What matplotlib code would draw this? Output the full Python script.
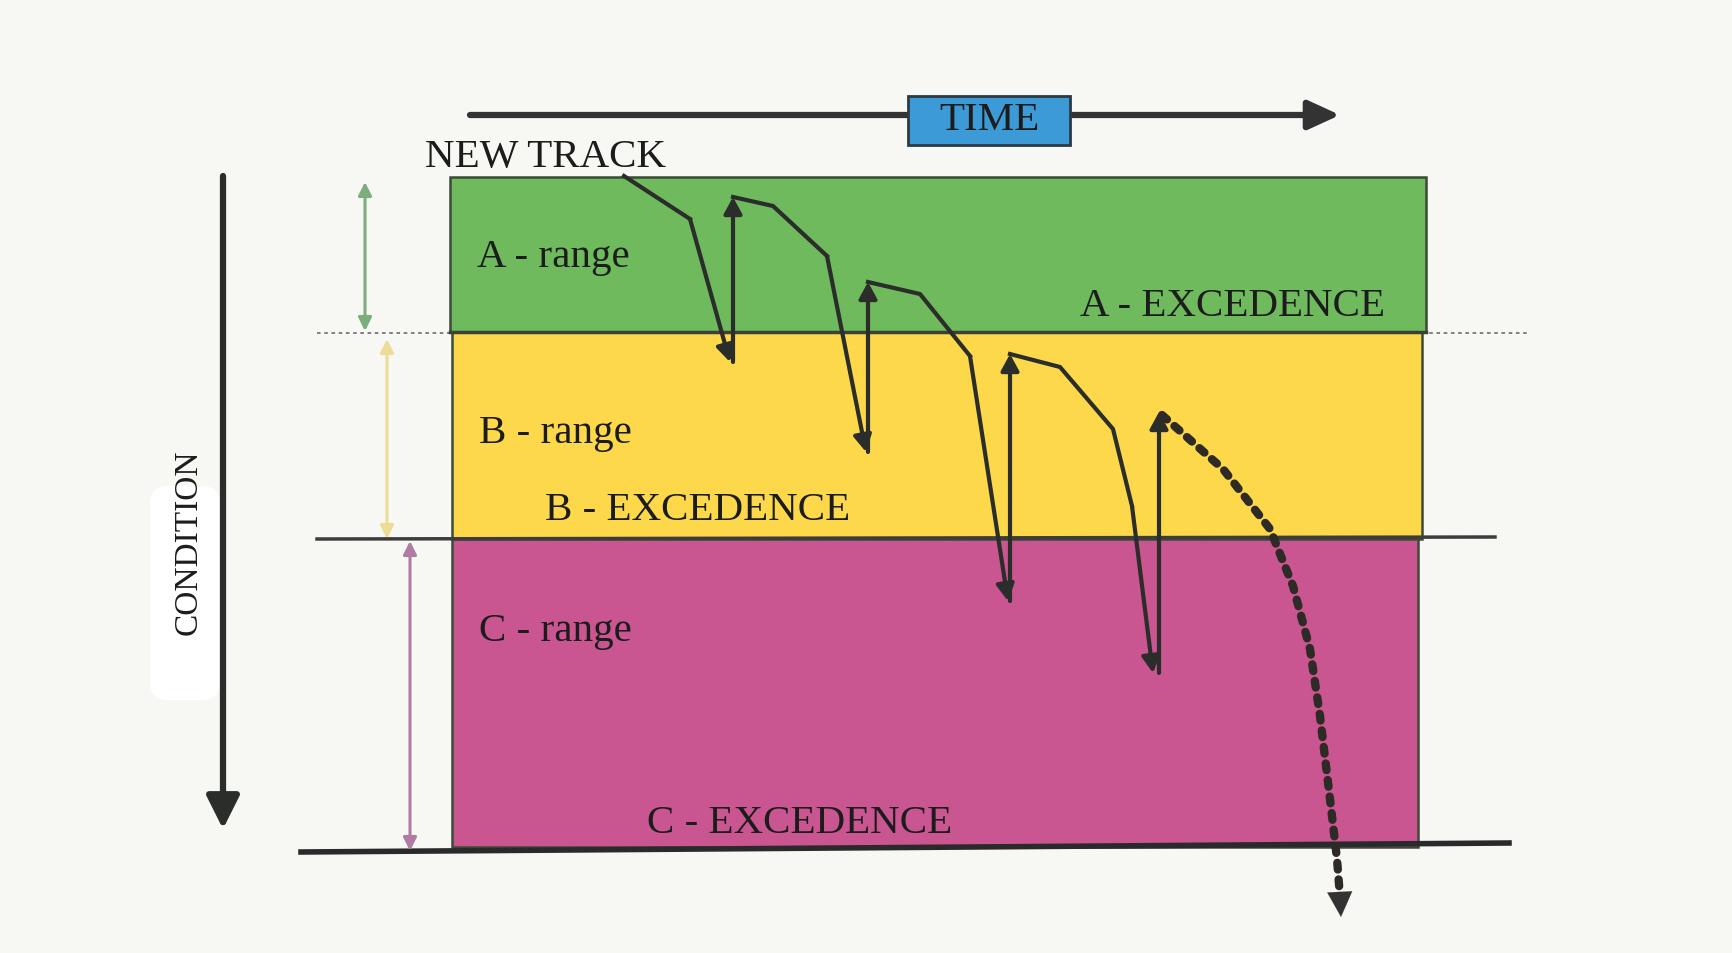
import matplotlib.pyplot as plt
from matplotlib.patches import Rectangle, FancyBboxPatch

# ranges (picture pixels, y grows downward)
band_names = ['A - range', 'B - range', 'C - range']
band_top = [178, 333, 540]
band_bottom = [333, 540, 848]
band_left = [450, 452, 452]
band_right = [1426, 1422, 1418]
band_colors = ['#6fba5c', '#fdd84a', '#c95591']
label_y = [258, 434, 632]

exc_names = ['A - EXCEDENCE', 'B - EXCEDENCE', 'C - EXCEDENCE']
exc_x = [1080, 545, 647]
exc_y = [307, 511, 824]

# track: falling parts (arrow at the end) and recovery jumps
fall_x = [[624, 690, 730],
          [733, 773, 827, 866],
          [868, 920, 970, 1008],
          [1010, 1060, 1113, 1132, 1153]]
fall_y = [[177, 220, 363],
          [198, 207, 257, 453],
          [283, 295, 357, 602],
          [355, 368, 430, 507, 674]]
jump_x = [733, 868, 1010, 1159]
jump_from = [363, 453, 602, 674]
jump_to = [198, 283, 355, 413]

# no maintenance: dotted drop out
drop_x = [1162, 1223, 1270, 1293, 1310, 1320, 1330, 1337, 1340, 1341]
drop_y = [416, 470, 530, 587, 650, 717, 800, 860, 898, 918]

# range arrows on the left
rng_x = [365, 387, 410]
rng_top = [183, 340, 542]
rng_bot = [332, 540, 852]
rng_colors = ['#7cae7c', '#ecdc98', '#b07ca4']

W, H = 1733, 954
fig = plt.figure(figsize=(W / 100, H / 100), dpi=100)
fig.patch.set_facecolor('#f7f8f4')
ax = fig.add_axes([0, 0, 1, 1])
ax.set_xlim(0, W)
ax.set_ylim(H, 0)
ax.axis('off')

serif = 'Liberation Serif'
dark = '#2b2d2a'
fs = 29.5

# white patch behind CONDITION
ax.add_patch(FancyBboxPatch((150, 487), 70, 214, boxstyle='round,pad=0,rounding_size=18',
                            facecolor='white', edgecolor='none', zorder=1))

# bands
for i in range(3):
    ax.add_patch(Rectangle((band_left[i], band_top[i]), band_right[i] - band_left[i],
                           band_bottom[i] - band_top[i], facecolor=band_colors[i],
                           edgecolor='#3d4a38', lw=1.8, zorder=2))
    ax.text(band_left[i] + 27, label_y[i], band_names[i], fontfamily=serif, fontsize=fs,
            va='center', ha='left', color='#1c1c1c', zorder=5)

for i in range(3):
    ax.text(exc_x[i], exc_y[i], exc_names[i], fontfamily=serif, fontsize=fs,
            va='center', ha='left', color='#1c1c1c', zorder=5)

# excedence lines
ax.plot([317, 1528], [334, 334], color='#777777', lw=1.3, ls=(0, (2, 2)), zorder=1.5)
ax.plot([450, 1426], [333, 333], color='#3a4236', lw=2.5, zorder=3)
ax.plot([317, 1495], [540, 538], color='#3c3c3c', lw=2.5, zorder=3)
ax.plot([301, 1509], [853, 844], color='#2a2a2a', lw=4, zorder=3)

# range arrows
for i in range(3):
    ax.annotate('', xy=(rng_x[i], rng_top[i]), xytext=(rng_x[i], rng_bot[i]),
                arrowprops=dict(arrowstyle='<|-|>,head_length=0.5,head_width=0.25',
                                color=rng_colors[i], lw=2.2,
                                mutation_scale=16, shrinkA=0, shrinkB=0), zorder=3)

# condition arrow
ax.annotate('', xy=(223, 830), xytext=(223, 177),
            arrowprops=dict(arrowstyle='-|>,head_length=0.5,head_width=0.25', color=dark, lw=4.5,
                            mutation_scale=40, shrinkA=0, shrinkB=0), zorder=3)
ax.text(188, 542, 'CONDITION', rotation=90, fontfamily=serif, fontsize=24,
        ha='center', va='center', color='#1c1c1c', zorder=4)

# time arrow and box
ax.annotate('', xy=(1340, 116), xytext=(470, 116),
            arrowprops=dict(arrowstyle='-|>,head_length=0.48,head_width=0.22', color='#333333', lw=4.5,
                            mutation_scale=40, shrinkA=0, shrinkB=0), zorder=3)
ax.add_patch(Rectangle((908, 97), 162, 49, facecolor='#3c9bd7', edgecolor='#2c3a44',
                       lw=2, zorder=4))
ax.text(989, 121, 'TIME', fontfamily=serif, fontsize=fs, ha='center', va='center',
        color='#1c1c1c', zorder=5)
ax.text(425, 157, 'NEW TRACK', fontfamily=serif, fontsize=fs, ha='left', va='center',
        color='#1c1c1c', zorder=5)

# track
head = dict(arrowstyle='-|>,head_length=0.55,head_width=0.3', color=dark, lw=3,
            mutation_scale=18, shrinkA=0, shrinkB=0)
for xs, ys in zip(fall_x, fall_y):
    ax.plot(xs[:-1], ys[:-1], color=dark, lw=3, solid_joinstyle='miter', zorder=6)
    ax.annotate('', xy=(xs[-1], ys[-1]), xytext=(xs[-2], ys[-2]), arrowprops=head, zorder=6)
for x, y0, y1 in zip(jump_x, jump_from, jump_to):
    ax.annotate('', xy=(x, y1), xytext=(x, y0), arrowprops=head, zorder=6)

ax.plot(drop_x[:-1], drop_y[:-1], color='#2e2a26', lw=6, ls=(0, (0.8, 1.2)),
        dash_capstyle='round', zorder=6)
ax.annotate('', xy=(drop_x[-1], drop_y[-1]), xytext=(drop_x[-2], drop_y[-2]),
            arrowprops=dict(arrowstyle='-|>,head_length=0.6,head_width=0.3', color='#333333',
                            lw=0.1, mutation_scale=30, shrinkA=0, shrinkB=0), zorder=6)

fig.savefig('out.png', dpi=100, facecolor=fig.get_facecolor())
